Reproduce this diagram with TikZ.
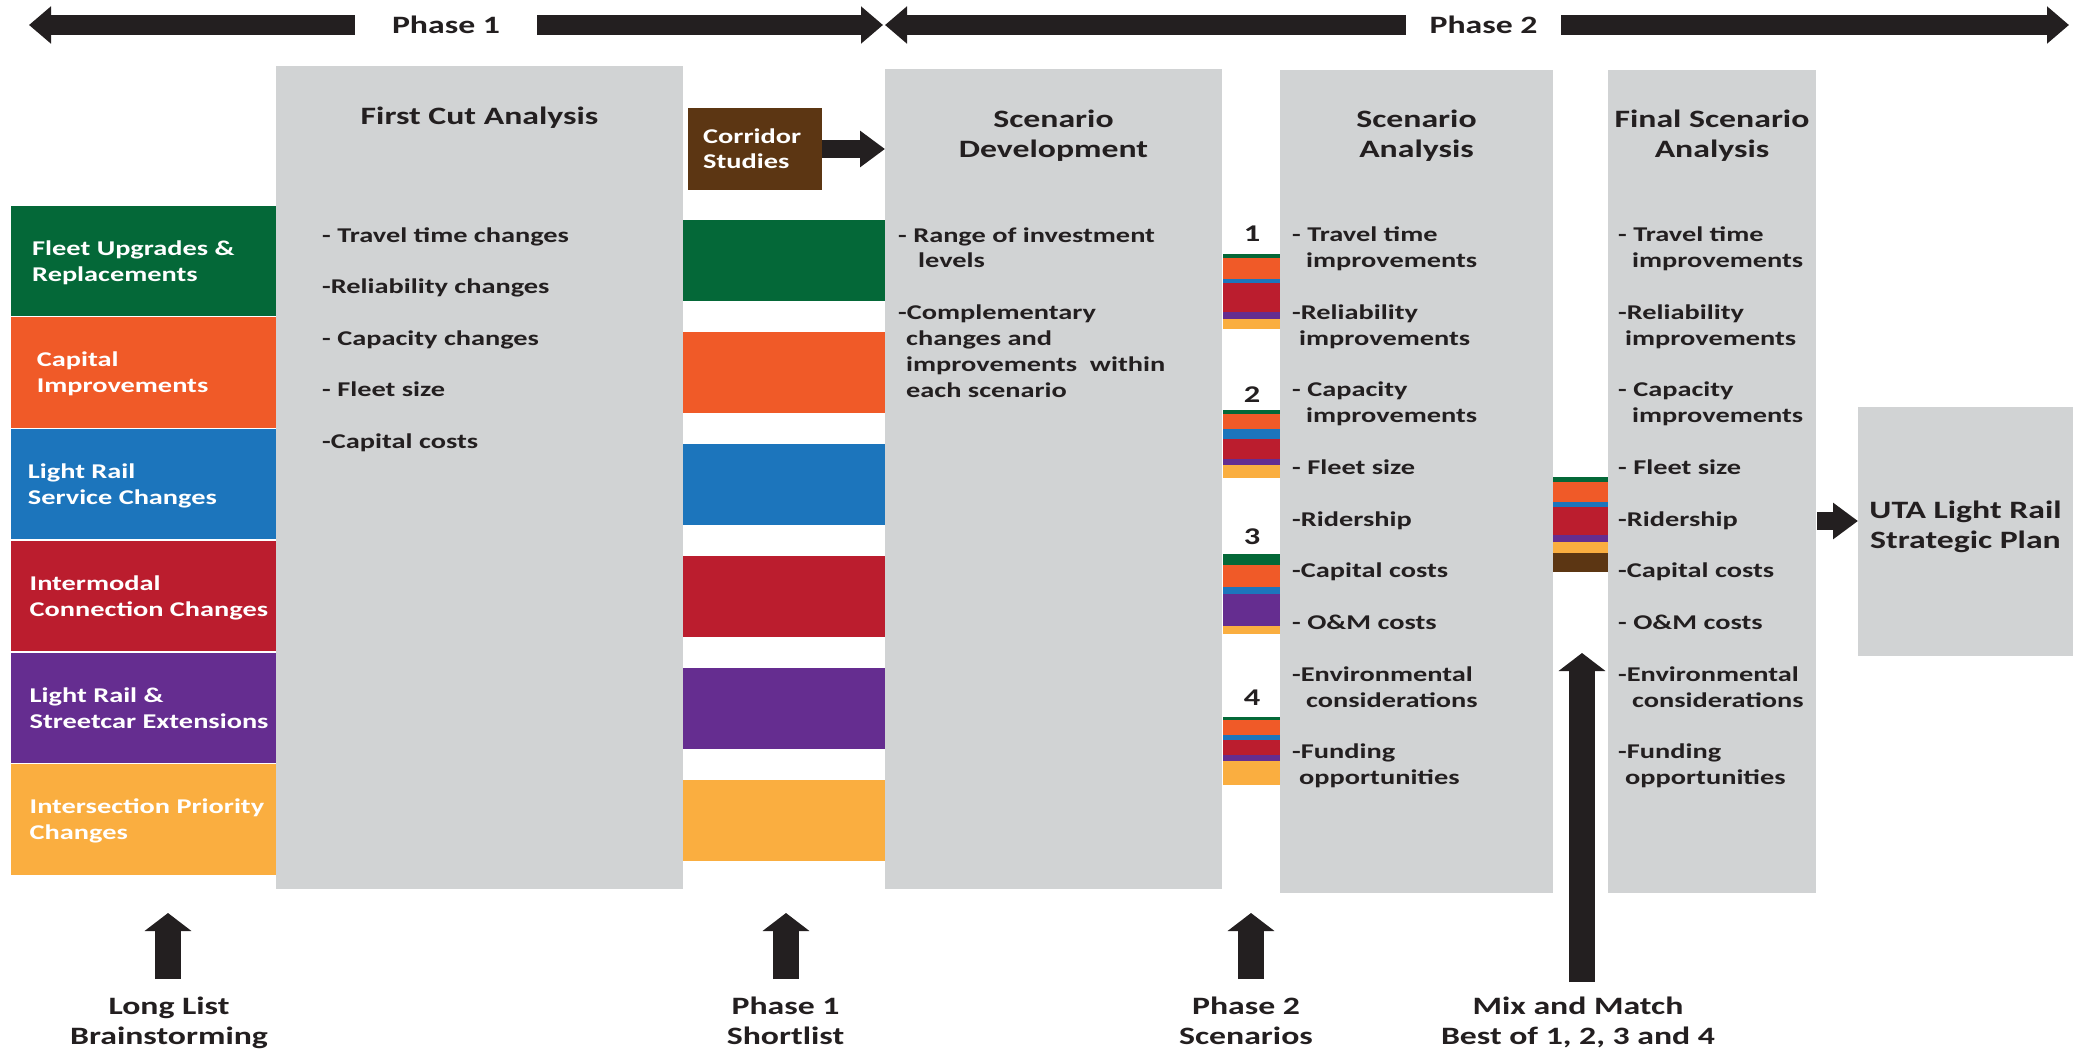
\documentclass[tikz,border=0pt]{standalone}
\usepackage{fontspec}
\newfontfamily\cf{Carlito}[FakeStretch=1.35]
\usetikzlibrary{arrows.meta}
\definecolor{cgreen}{RGB}{4,104,56}
\definecolor{corange}{RGB}{240,90,40}
\definecolor{cblue}{RGB}{28,117,188}
\definecolor{cred}{RGB}{187,29,46}
\definecolor{cpurple}{RGB}{101,45,144}
\definecolor{cyellow}{RGB}{250,174,64}
\definecolor{cbrown}{RGB}{92,54,19}
\definecolor{cgray}{RGB}{209,211,212}
\definecolor{cdark}{RGB}{35,31,32}
\tikzset{
  graybox/.style={fill=cgray, inner sep=0pt, outer sep=0pt},
  band/.style={inner sep=0pt, outer sep=0pt, minimum width=265.4pt, minimum height=110.3pt},
  sband/.style={inner sep=0pt, outer sep=0pt, minimum width=202pt, minimum height=81pt},
  headtext/.style={font=\cf\bfseries\fontsize{25}{30}\selectfont, text=cdark, inner sep=0pt, anchor=base},
  itemtext/.style={font=\cf\bfseries\fontsize{21}{26}\selectfont, text=cdark, inner sep=0pt, anchor=base west},
  bandtext/.style={font=\cf\bfseries\fontsize{21}{26}\selectfont, text=white, inner sep=0pt, anchor=base west},
  numtext/.style={font=\cf\bfseries\fontsize{24}{28}\selectfont, text=cdark, inner sep=0pt, anchor=base},
  harrow/.style={draw=cdark, line width=18pt, -{Triangle[width=35pt,length=25pt]}},
  toparrow/.style={draw=cdark, line width=20pt, -{Triangle[width=36pt,length=22pt]}},
  uparrow/.style={draw=cdark, line width=26pt, -{Triangle[width=46pt,length=18pt]}},
}
\begin{document}
\begin{tikzpicture}[x=1pt,y=-1pt]
\useasboundingbox (0,0) rectangle (2080,1050);
\fill[white] (0,0) rectangle (2080,1050);

% ---- top phase arrows
\node[headtext, anchor=center, minimum width=182pt] (p1) at (446,25) {Phase 1};
\node[headtext, anchor=center, minimum width=155pt] (p2) at (1483.5,25) {Phase 2};
\coordinate (p1l) at (29,25);
\coordinate (p1r) at (883,25);
\coordinate (p2l) at (885,25);
\coordinate (p2r) at (2069,25);
\draw[toparrow] (p1.west) -- (p1l);
\draw[toparrow] (p1.east) -- (p1r);
\draw[toparrow] (p2.west) -- (p2l);
\draw[toparrow] (p2.east) -- (p2r);

% ---- left bands
\foreach \c [count=\i] in {cgreen,corange,cblue,cred,cpurple,cyellow}{
  \node[band, fill=\c] (lb\i) at (143.3, 205.6+111.75*\i-111.75+55.15) {};
}
\foreach \a/\b/\x [count=\i] in {{Fleet Upgrades \&}/{Replacements}/32,
  {Capital}/{Improvements}/36.6,
  {Light Rail}/{Service Changes}/27.7,
  {Intermodal}/{Connection Changes}/29.5,
  {Light Rail \&}/{Streetcar Extensions}/29.5,
  {Intersection Priority}/{Changes}/29.5}{
  \node[bandtext] (lt\i a) at (\x, 205.6+111.75*\i-111.75+49.5) {\a};
  \node[bandtext] (lt\i b) at (\x, 205.6+111.75*\i-111.75+75.5) {\b};
}

% ---- shortlist bands
\foreach \c [count=\i] in {cgreen,corange,cblue,cred,cpurple,cyellow}{
  \node[sband, fill=\c] (sl\i) at (784, 220+112*\i-112+40.5) {};
}

% ---- gray boxes
\node[graybox, minimum width=407pt, minimum height=823pt] (fc) at (479.5,477.5) {};
\node[graybox, minimum width=337pt, minimum height=820pt] (sd) at (1053.5,479) {};
\node[graybox, minimum width=273pt, minimum height=823pt] (sa) at (1416.5,481.5) {};
\node[graybox, minimum width=208pt, minimum height=823pt] (fs) at (1712,481.5) {};
\node[graybox, minimum width=215pt, minimum height=249pt] (uta) at (1965.5,531.5) {};
\node[inner sep=0pt, fill=cbrown, minimum width=134pt, minimum height=82pt] (cor) at (755,149) {};

% ---- headings
\node[headtext] (fch) at (479.5,124) {First Cut Analysis};
\node[headtext] (sdh1) at (1053.5,127) {Scenario};
\node[headtext] (sdh2) at (1053.5,157) {Development};
\node[headtext] (sah1) at (1416.5,127) {Scenario};
\node[headtext] (sah2) at (1416.5,157) {Analysis};
\node[headtext] (fsh1) at (1712,127) {Final Scenario};
\node[headtext] (fsh2) at (1712,157) {Analysis};
\node[headtext] (ut1) at (1965.5,518) {UTA Light Rail};
\node[headtext] (ut2) at (1965.5,548) {Strategic Plan};
\node[bandtext] (ct1) at (703,143.5) {Corridor};
\node[bandtext] (ct2) at (703,168.5) {Studies};

% ---- list items
\foreach \t/\k [count=\n] in {{- Travel time changes}/0,{-Reliability changes}/2,
  {- Capacity changes}/4,{- Fleet size}/6,{-Capital costs}/8}{
  \node[itemtext] (fci\n) at (322, 242+25.8*\k) {\t};
}
\foreach \t/\k/\d [count=\n] in {{- Range of investment}/0/0,{levels}/1/20,
  {-Complementary}/3/0,{changes and}/4/8,{improvements~ within}/5/8,{each scenario}/6/8}{
  \node[itemtext] (sdi\n) at (898+\d, 242+25.85*\k) {\t};
}
\foreach \t/\k/\d [count=\n] in {{- Travel time}/0/14,{improvements}/1/28,
  {-Reliability}/3/14,{improvements}/4/21,{- Capacity}/6/14,{improvements}/7/28,
  {- Fleet size}/9/14,{-Ridership}/11/14,{-Capital costs}/13/14,{- O\&M costs}/15/14,
  {-Environmental}/17/14,{considerations}/18/28,{-Funding}/20/14,{opportunities}/21/21}{
  \node[itemtext] (sai\n) at (1278+\d, 241.8+25.85*\k) {\t};
  \node[itemtext] (fsi\n) at (1604+\d, 241.8+25.85*\k) {\t};
}

% ---- scenario numbers and stacks
\foreach \t/\y [count=\n] in {1/241,2/402.5,3/544.3,4/705}{
  \node[numtext] (num\n) at (1252,\y) {\t};
}
\foreach \c/\a/\b in {cgreen/254.3/258.2,corange/258.2/278.5,cblue/278.5/283.4,cred/283.4/311.7,cpurple/311.7/318.6,cyellow/318.6/329.4,
  cgreen/409.7/413.5,corange/413.5/428.5,cblue/428.5/439.2,cred/439.2/459,cpurple/459/465.2,cyellow/465.2/477.5,
  cgreen/554/564.7,corange/564.7/586.5,cblue/586.5/594.2,cpurple/594.2/625.6,cyellow/625.6/634.4,
  cgreen/716.6/719.7,corange/719.7/735,cblue/735/739.6,cred/739.6/755,cpurple/755/761.4,cyellow/761.4/784.8}{
  \fill[\c] (1223,\a) rectangle (1280,\b);
}
\foreach \c/\a/\b in {cgreen/476.7/481.7,corange/481.7/502.3,cblue/502.3/507.3,cred/507.3/535,cpurple/535/541.7,cyellow/541.7/552.7,cbrown/552.7/571.7}{
  \fill[\c] (1553,\a) rectangle (1608,\b);
}

% ---- horizontal block arrows
\draw[harrow] (cor.east) -- (sd.west |- cor.east);
\coordinate (fsa) at (1817,521);
\draw[harrow] (fsa) -- (uta.west |- fsa);

% ---- bottom labels and up arrows
\node[headtext] (b1a) at (169,1014) {Long List};
\node[headtext] (b1b) at (169,1044) {Brainstorming};
\node[headtext] (b2a) at (785.5,1014) {Phase 1};
\node[headtext] (b2b) at (785.5,1044) {Shortlist};
\node[headtext] (b3a) at (1246,1014) {Phase 2};
\node[headtext] (b3b) at (1246,1044) {Scenarios};
\node[headtext] (b4a) at (1578,1014) {Mix and Match};
\node[headtext] (b4b) at (1578,1044) {Best of 1, 2, 3 and 4};
\coordinate (u1s) at (168,979);  \coordinate (u1t) at (168,913);
\coordinate (u2s) at (786,979);  \coordinate (u2t) at (786,913);
\coordinate (u3s) at (1251,979); \coordinate (u3t) at (1251,913);
\coordinate (u4s) at (1582,982); \coordinate (u4t) at (1582,653);
\draw[uparrow] (u1s) -- (u1t);
\draw[uparrow] (u2s) -- (u2t);
\draw[uparrow] (u3s) -- (u3t);
\draw[uparrow] (u4s) -- (u4t);
\end{tikzpicture}
\end{document}
